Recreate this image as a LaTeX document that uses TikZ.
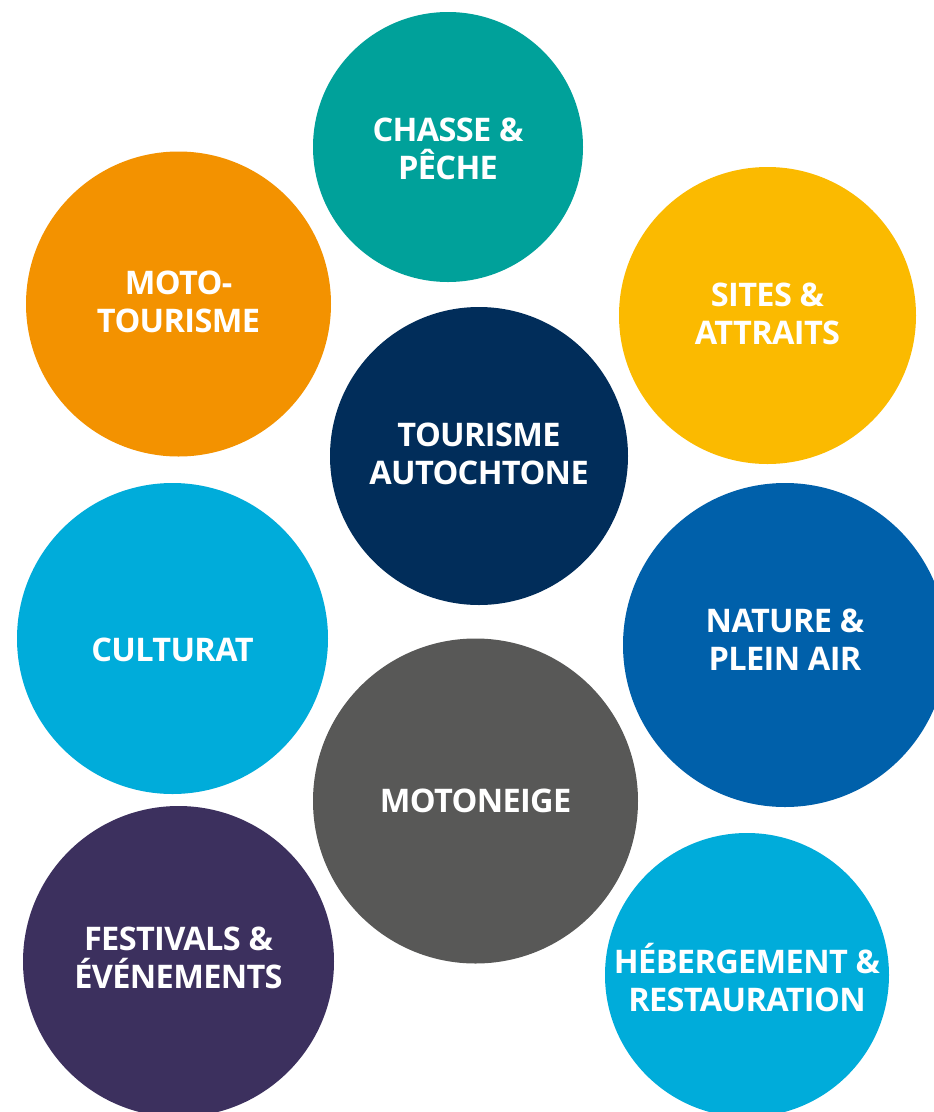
\documentclass[tikz,border=0pt]{standalone}
\usepackage{fontspec}
\setmainfont{Open Sans}[LetterSpace=-2]
\definecolor{cteal}{HTML}{00A19A}
\definecolor{corange}{HTML}{F39200}
\definecolor{cyellow}{HTML}{FBBA00}
\definecolor{cnavy}{HTML}{012D5A}
\definecolor{clight}{HTML}{00ACDA}
\definecolor{cblue}{HTML}{0060AA}
\definecolor{cgrey}{HTML}{585857}
\definecolor{cpurple}{HTML}{3C305E}
\tikzset{
  blob/.style={circle, inner sep=0pt, outer sep=0pt, draw=none},
  lbl/.style={inner sep=0pt, text=white, align=center,
    font=\fontsize{32.5pt}{38pt}\selectfont\bfseries}
}
\begin{document}
\begin{tikzpicture}[x=1pt,y=-1pt]
\path[use as bounding box, clip] (0,0) rectangle (934,1112);
\fill[white] (0,0) rectangle (934,1112);
\node[blob, fill=cteal,   minimum size=270pt, label={[lbl,yshift=-2pt]center:{CHASSE \&\\PÊCHE}}] (chasse) at (448,147) {};
\node[blob, fill=corange, minimum size=305pt, label={[lbl,yshift=2.5pt]center:{MOTO-\\TOURISME}}] (moto) at (178.5,304) {};
\node[blob, fill=cyellow, minimum size=297pt, label={[lbl,yshift=2pt]center:{SITES \&\\ATTRAITS}}] (sites) at (767.5,315.5) {};
\node[blob, fill=cnavy,   minimum size=298pt, label={[lbl,yshift=2pt]center:{TOURISME\\AUTOCHTONE}}] (auto) at (479,456) {};
\node[blob, fill=clight,  minimum size=311pt, label={[lbl,yshift=-11.5pt]center:{CULTURAT}}] (cult) at (172.5,638.5) {};
\node[blob, fill=cblue,   minimum size=324pt, label={[lbl,yshift=5pt]center:{NATURE \&\\PLEIN AIR}}] (nature) at (785,645) {};
\node[blob, fill=cgrey,   minimum size=325pt, label={[lbl]center:{MOTONEIGE}}] (neige) at (475.5,801) {};
\node[blob, fill=cpurple, minimum size=311pt, label={[lbl,yshift=4pt]center:{FESTIVALS \&\\ÉVÉNEMENTS}}] (fest) at (178.5,961.5) {};
\node[blob, fill=clight,  minimum size=284pt, label={[lbl,yshift=-3pt]center:{HÉBERGEMENT \&\\RESTAURATION}}] (heb) at (747,975) {};
\end{tikzpicture}
\end{document}
